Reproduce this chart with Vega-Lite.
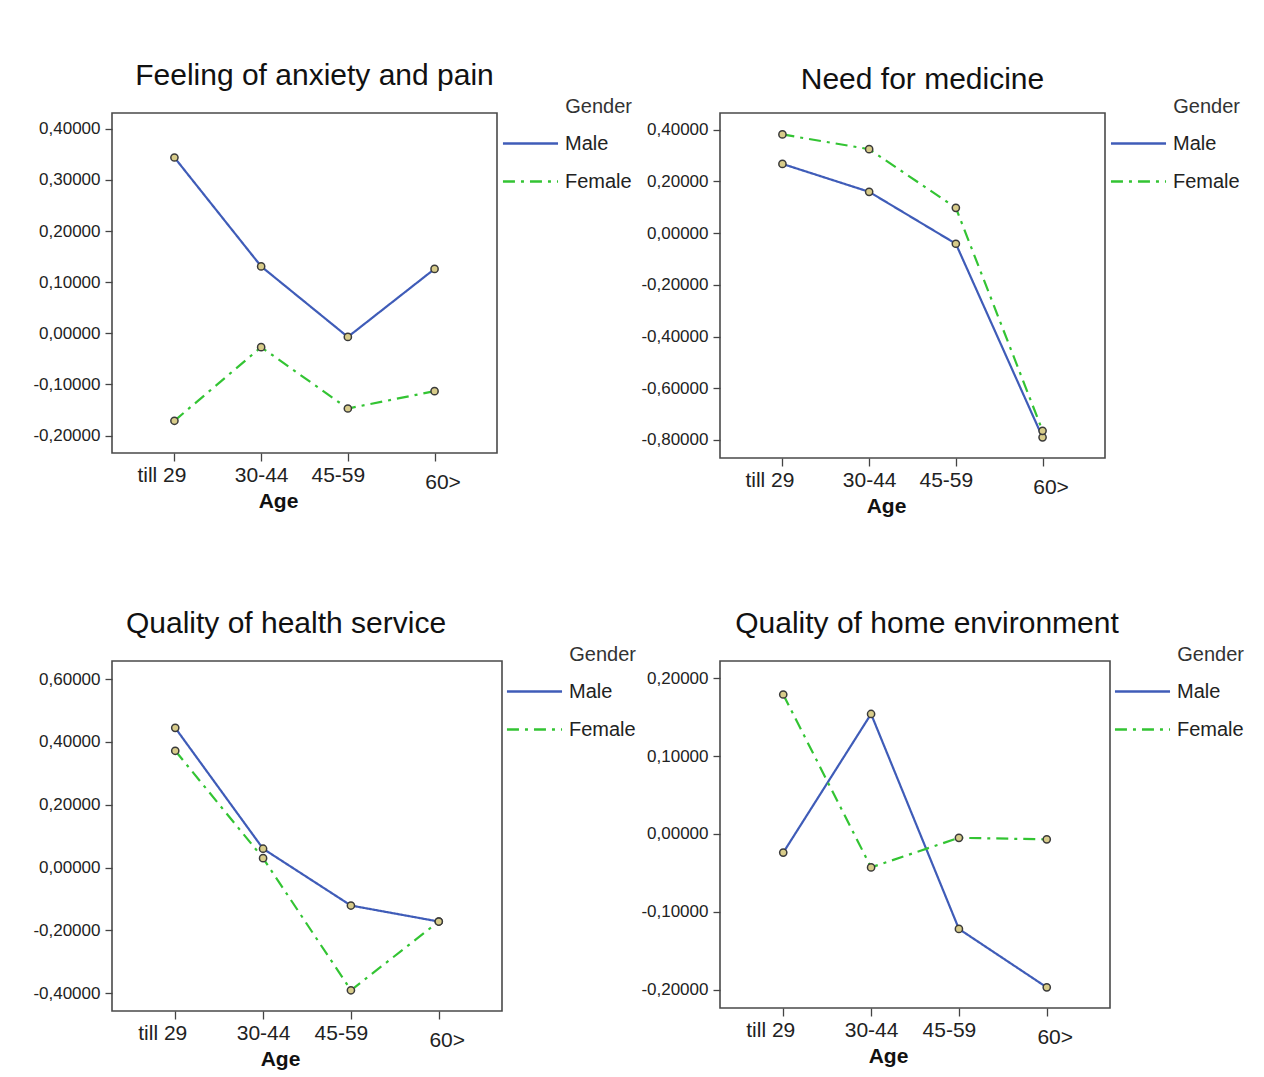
{
  "$schema": "https://vega.github.io/schema/vega-lite/v6.json",
  "background": "white",
  "padding": {"left": 32, "top": 60, "right": 0, "bottom": 0},
  "datasets": {
    "scores": [
      {"panel": "anxiety", "gender": "Male", "age": "till 29", "score": 0.344},
      {"panel": "anxiety", "gender": "Male", "age": "30-44", "score": 0.131},
      {"panel": "anxiety", "gender": "Male", "age": "45-59", "score": -0.007},
      {"panel": "anxiety", "gender": "Male", "age": "60>", "score": 0.126},
      {"panel": "anxiety", "gender": "Female", "age": "till 29", "score": -0.171},
      {"panel": "anxiety", "gender": "Female", "age": "30-44", "score": -0.027},
      {"panel": "anxiety", "gender": "Female", "age": "45-59", "score": -0.147},
      {"panel": "anxiety", "gender": "Female", "age": "60>", "score": -0.113},
      {"panel": "medicine", "gender": "Male", "age": "till 29", "score": 0.268},
      {"panel": "medicine", "gender": "Male", "age": "30-44", "score": 0.160},
      {"panel": "medicine", "gender": "Male", "age": "45-59", "score": -0.041},
      {"panel": "medicine", "gender": "Male", "age": "60>", "score": -0.790},
      {"panel": "medicine", "gender": "Female", "age": "till 29", "score": 0.382},
      {"panel": "medicine", "gender": "Female", "age": "30-44", "score": 0.325},
      {"panel": "medicine", "gender": "Female", "age": "45-59", "score": 0.098},
      {"panel": "medicine", "gender": "Female", "age": "60>", "score": -0.765},
      {"panel": "health", "gender": "Male", "age": "till 29", "score": 0.445},
      {"panel": "health", "gender": "Male", "age": "30-44", "score": 0.060},
      {"panel": "health", "gender": "Male", "age": "45-59", "score": -0.121},
      {"panel": "health", "gender": "Male", "age": "60>", "score": -0.172},
      {"panel": "health", "gender": "Female", "age": "till 29", "score": 0.372},
      {"panel": "health", "gender": "Female", "age": "30-44", "score": 0.030},
      {"panel": "health", "gender": "Female", "age": "45-59", "score": -0.391},
      {"panel": "health", "gender": "Female", "age": "60>", "score": -0.172},
      {"panel": "home", "gender": "Male", "age": "till 29", "score": -0.024},
      {"panel": "home", "gender": "Male", "age": "30-44", "score": 0.154},
      {"panel": "home", "gender": "Male", "age": "45-59", "score": -0.122},
      {"panel": "home", "gender": "Male", "age": "60>", "score": -0.197},
      {"panel": "home", "gender": "Female", "age": "till 29", "score": 0.179},
      {"panel": "home", "gender": "Female", "age": "30-44", "score": -0.043},
      {"panel": "home", "gender": "Female", "age": "45-59", "score": -0.005},
      {"panel": "home", "gender": "Female", "age": "60>", "score": -0.007}
    ]
  },
  "columns": 2,
  "bounds": "flush",
  "spacing": {"row": 203, "column": 218},
  "resolve": {"scale": {"color": "independent", "strokeDash": "independent"}},
  "concat": [
    {
      "width": 385,
      "height": 340,
      "title": {"text": "Feeling of anxiety and pain", "dx": 10},
      "data": {"name": "scores"},
      "transform": [{"filter": "datum.panel === 'anxiety'"}],
      "encoding": {
        "x": {"field": "age", "type": "ordinal", "title": "Age", "sort": ["till 29", "30-44", "45-59", "60>"], "scale": {"type": "point", "padding": 0.72},
              "axis": {"titleX": 166}},
        "y": {"field": "score", "type": "quantitative", "title": null, "scale": {"domain": [-0.234, 0.431], "nice": false, "zero": false},
              "axis": {"values": [-0.2, -0.1, 0, 0.1, 0.2, 0.3, 0.4]}}
      },
      "layer": [
        {
          "mark": {"type": "line", "strokeWidth": 2.2},
          "encoding": {
            "color": {"field": "gender", "type": "nominal", "scale": {"domain": ["Male", "Female"], "range": ["#3f5cb8", "#33c433"]},
                      "legend": {"orient": "none", "legendX": 400, "legendY": -16, "title": "Gender"}},
            "strokeDash": {"field": "gender", "type": "nominal", "scale": {"domain": ["Male", "Female"], "range": [[1, 0], [12, 6, 3, 6]]},
                           "legend": {"orient": "none", "legendX": 400, "legendY": -16, "title": "Gender"}}
          }
        },
        {"mark": {"type": "circle", "size": 52, "fill": "#d8cc8a", "stroke": "#3a3a3a", "strokeWidth": 1.5, "opacity": 1}}
      ]
    },
    {
      "width": 385,
      "height": 345,
      "title": {"text": "Need for medicine", "dx": 10, "offset": 2},
      "data": {"name": "scores"},
      "transform": [{"filter": "datum.panel === 'medicine'"}],
      "encoding": {
        "x": {"field": "age", "type": "ordinal", "title": "Age", "sort": ["till 29", "30-44", "45-59", "60>"], "scale": {"type": "point", "padding": 0.72},
              "axis": {"titleX": 166}},
        "y": {"field": "score", "type": "quantitative", "title": null, "scale": {"domain": [-0.87, 0.465], "nice": false, "zero": false},
              "axis": {"values": [-0.8, -0.6, -0.4, -0.2, 0, 0.2, 0.4]}}
      },
      "layer": [
        {
          "mark": {"type": "line", "strokeWidth": 2.2},
          "encoding": {
            "color": {"field": "gender", "type": "nominal", "scale": {"domain": ["Male", "Female"], "range": ["#3f5cb8", "#33c433"]},
                      "legend": {"orient": "none", "legendX": 400, "legendY": -16, "title": "Gender"}},
            "strokeDash": {"field": "gender", "type": "nominal", "scale": {"domain": ["Male", "Female"], "range": [[1, 0], [12, 6, 3, 6]]},
                           "legend": {"orient": "none", "legendX": 400, "legendY": -16, "title": "Gender"}}
          }
        },
        {"mark": {"type": "circle", "size": 52, "fill": "#d8cc8a", "stroke": "#3a3a3a", "strokeWidth": 1.5, "opacity": 1}}
      ]
    },
    {
      "width": 390,
      "height": 350,
      "title": {"text": "Quality of health service", "dx": -21},
      "data": {"name": "scores"},
      "transform": [{"filter": "datum.panel === 'health'"}],
      "encoding": {
        "x": {"field": "age", "type": "ordinal", "title": "Age", "sort": ["till 29", "30-44", "45-59", "60>"], "scale": {"type": "point", "padding": 0.72},
              "axis": {"titleX": 168}},
        "y": {"field": "score", "type": "quantitative", "title": null, "scale": {"domain": [-0.457, 0.658], "nice": false, "zero": false},
              "axis": {"values": [-0.4, -0.2, 0, 0.2, 0.4, 0.6]}}
      },
      "layer": [
        {
          "mark": {"type": "line", "strokeWidth": 2.2},
          "encoding": {
            "color": {"field": "gender", "type": "nominal", "scale": {"domain": ["Male", "Female"], "range": ["#3f5cb8", "#33c433"]},
                      "legend": {"orient": "none", "legendX": 404, "legendY": -16, "title": "Gender"}},
            "strokeDash": {"field": "gender", "type": "nominal", "scale": {"domain": ["Male", "Female"], "range": [[1, 0], [12, 6, 3, 6]]},
                           "legend": {"orient": "none", "legendX": 404, "legendY": -16, "title": "Gender"}}
          }
        },
        {"mark": {"type": "circle", "size": 52, "fill": "#d8cc8a", "stroke": "#3a3a3a", "strokeWidth": 1.5, "opacity": 1}}
      ]
    },
    {
      "width": 390,
      "height": 347,
      "title": {"text": "Quality of home environment", "dx": 12},
      "data": {"name": "scores"},
      "transform": [{"filter": "datum.panel === 'home'"}],
      "encoding": {
        "x": {"field": "age", "type": "ordinal", "title": "Age", "sort": ["till 29", "30-44", "45-59", "60>"], "scale": {"type": "point", "padding": 0.72},
              "axis": {"titleX": 168}},
        "y": {"field": "score", "type": "quantitative", "title": null, "scale": {"domain": [-0.2235, 0.222], "nice": false, "zero": false},
              "axis": {"values": [-0.2, -0.1, 0, 0.1, 0.2]}}
      },
      "layer": [
        {
          "mark": {"type": "line", "strokeWidth": 2.2},
          "encoding": {
            "color": {"field": "gender", "type": "nominal", "scale": {"domain": ["Male", "Female"], "range": ["#3f5cb8", "#33c433"]},
                      "legend": {"orient": "none", "legendX": 404, "legendY": -16, "title": "Gender"}},
            "strokeDash": {"field": "gender", "type": "nominal", "scale": {"domain": ["Male", "Female"], "range": [[1, 0], [12, 6, 3, 6]]},
                           "legend": {"orient": "none", "legendX": 404, "legendY": -16, "title": "Gender"}}
          }
        },
        {"mark": {"type": "circle", "size": 52, "fill": "#d8cc8a", "stroke": "#3a3a3a", "strokeWidth": 1.5, "opacity": 1}}
      ]
    }
  ],
  "config": {
    "font": "Liberation Sans",
    "view": {"stroke": "#4a4a4a", "strokeWidth": 1.6},
    "title": {"fontSize": 30, "fontWeight": "normal", "color": "#111", "anchor": "middle", "offset": 6},
    "axis": {"grid": false, "domain": false, "tickColor": "#444", "tickWidth": 1.3, "labelColor": "#222"},
    "axisY": {
      "labelFontSize": 17,
      "tickSize": 7,
      "labelPadding": 5,
      "labelExpr": "replace(replace(format(datum.value, '.5f'), '.', ','), '\u2212', '-')"
    },
    "axisX": {
      "titleFontSize": 21,
      "titleFontWeight": "bold",
      "titleColor": "#111",
      "titlePadding": -2,
      "labelFontSize": 21,
      "labelAngle": 0,
      "tickSize": 8,
      "labelPadding": {"condition": [{"test": "datum.value === '60>'", "value": 10}], "value": 3},
      "labelOffset": {"condition": [
        {"test": "datum.value === 'till 29'", "value": -13},
        {"test": "datum.value === '45-59'", "value": -10},
        {"test": "datum.value === '60>'", "value": 8}
      ], "value": 0}
    },
    "legend": {
      "padding": 0,
      "titleFontSize": 20,
      "titleFontWeight": "normal",
      "titleColor": "#333",
      "titleAnchor": "end",
      "titlePadding": 8,
      "labelFontSize": 20,
      "labelColor": "#222",
      "symbolType": "M-1.62,0H1.62",
      "symbolSize": 1156,
      "symbolStrokeWidth": 2.5,
      "labelOffset": 16,
      "rowPadding": 9
    }
  }
}
